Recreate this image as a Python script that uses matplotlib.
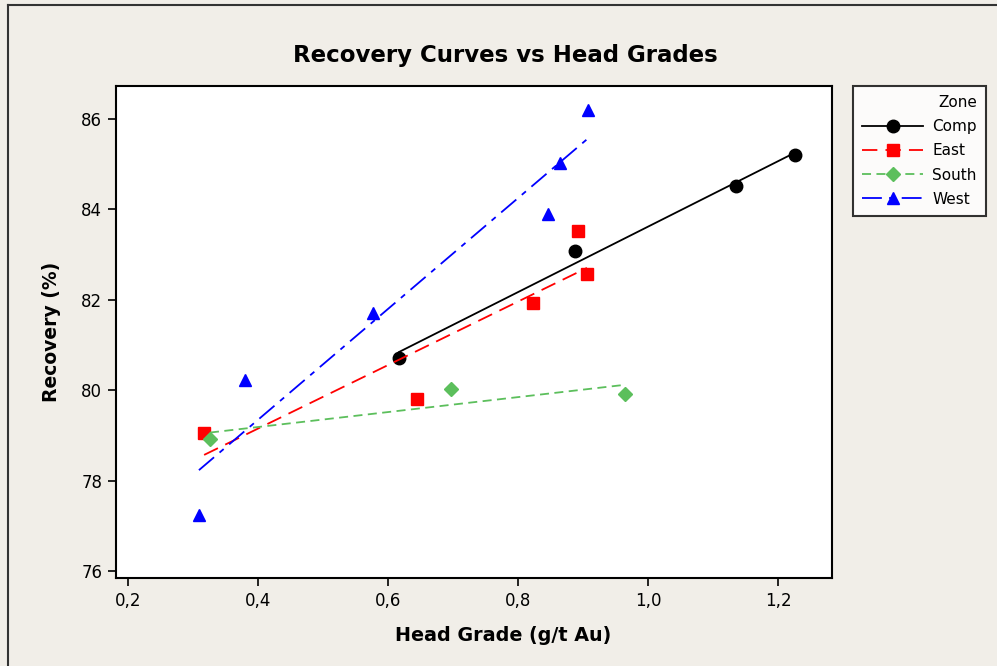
import numpy as np
import matplotlib
matplotlib.use("Agg")
import matplotlib.pyplot as plt
from matplotlib.lines import Line2D

# data
comp_x = [0.617, 0.888, 1.135, 1.226]
comp_y = [80.71, 83.08, 84.52, 85.20]
east_x = [0.317, 0.645, 0.823, 0.892, 0.906]
east_y = [79.05, 79.81, 81.93, 83.53, 82.57]
south_x = [0.326, 0.697, 0.965]
south_y = [78.92, 80.03, 79.92]
west_x = [0.309, 0.380, 0.577, 0.846, 0.865, 0.908]
west_y = [77.24, 80.23, 81.70, 83.90, 85.03, 86.20]

xticks = [0.2, 0.4, 0.6, 0.8, 1.0, 1.2]
yticks = [76, 78, 80, 82, 84, 86]

bg = "#f1eee8"
fig = plt.figure(figsize=(9.97, 6.66), dpi=100, facecolor=bg)
ax = fig.add_axes([0.1164, 0.1321, 0.7181, 0.7388])
ax.set_facecolor("white")

series = [
    ("Comp", comp_x, comp_y, "black", "o", "-", 9),
    ("East", east_x, east_y, "#ff0000", "s", (0, (8.5, 4.5)), 8.5),
    ("South", south_x, south_y, "#5cbf5c", "D", (0, (5, 3)), 7),
    ("West", west_x, west_y, "#0000ff", "^", (0, (11, 4, 3, 4)), 8.5),
]

handles = []
for name, x, y, col, mk, ls, ms in series:
    x = np.array(x)
    y = np.array(y)
    b, a = np.polyfit(x, y, 1)
    xs = np.array([x.min(), x.max()])
    ax.plot(xs, a + b * xs, color=col, linestyle=ls, linewidth=1.3)
    ax.plot(x, y, linestyle="none", marker=mk, color=col, markersize=ms,
            markeredgecolor=col)
    handles.append(Line2D([], [], color=col, linestyle=ls, linewidth=1.3,
                          marker=mk, markersize=ms, markeredgecolor=col))

ax.set_xlim(0.1815, 1.283)
ax.set_ylim(75.85, 86.73)
ax.set_xticks(xticks)
ax.set_xticklabels([("%.1f" % v).replace(".", ",") for v in xticks])
ax.set_yticks(yticks)
ax.tick_params(direction="out", length=6, width=1.2, labelsize=12,
               colors="black", pad=4)
for s in ax.spines.values():
    s.set_linewidth(1.5)

ax.set_xlabel("Head Grade (g/t Au)", fontsize=13.8, fontweight="bold")
ax.xaxis.set_label_coords(0.54, -0.098)
ax.set_ylabel("Recovery (%)", fontsize=13.5, fontweight="bold")
ax.yaxis.set_label_coords(-0.077, 0.5)
fig.text(0.507, 0.917, "Recovery Curves vs Head Grades", ha="center",
         va="center", fontsize=16.5, fontweight="bold")

leg = fig.legend(handles, [s[0] for s in series], title="Zone",
                 loc="upper left", bbox_to_anchor=(0.8556, 0.8709),
                 borderaxespad=0, frameon=True, fancybox=False,
                 edgecolor="black", fontsize=11, title_fontsize=11,
                 handlelength=4.0, handletextpad=0.6, markerfirst=True,
                 alignment="right", borderpad=0.6, labelspacing=0.6)
leg.get_frame().set_linewidth(1.5)
leg.get_frame().set_facecolor("white")
for t in leg.get_texts():
    t.set_ha("right")

# outer frame of the graph window
fig.add_artist(Line2D([0.008, 1.0], [0.992, 0.992], color="#333333", lw=1.5))
fig.add_artist(Line2D([0.008, 0.008], [0.0, 0.992], color="#333333", lw=1.5))

fig.savefig("out.png", dpi=100, facecolor=bg)
